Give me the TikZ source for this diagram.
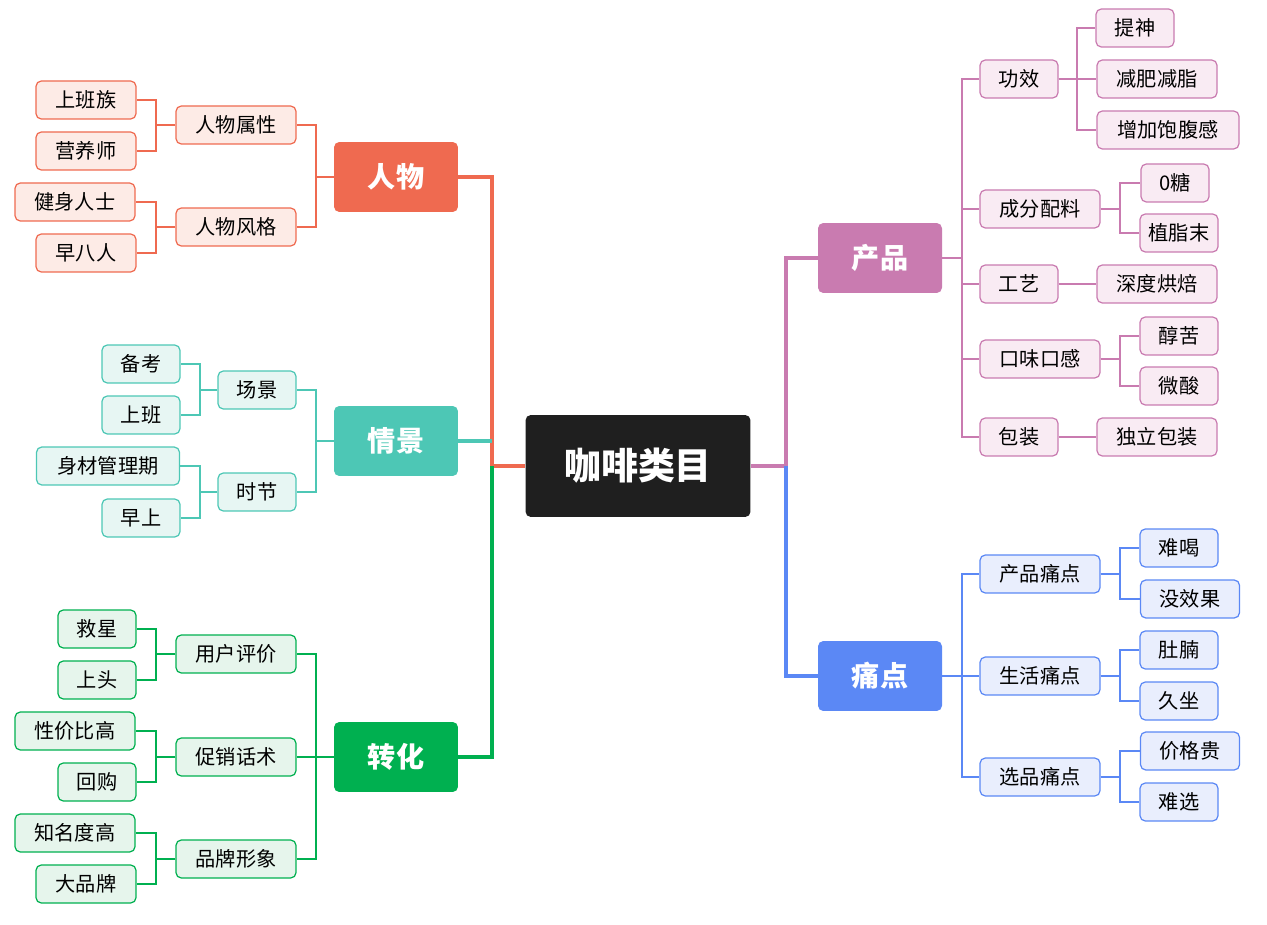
\documentclass[tikz,border=0pt]{standalone}
\usepackage{fontspec}
\setmainfont{Noto Sans CJK SC}
\usepackage{tikz}

\definecolor{rwRed}{HTML}{EF6A50}
\definecolor{rwRedL}{HTML}{FDEBE6}
\definecolor{rwTeal}{HTML}{4DC7B5}
\definecolor{rwTealL}{HTML}{E7F6F3}
\definecolor{rwGreen}{HTML}{00B050}
\definecolor{rwGreenL}{HTML}{E6F5EC}
\definecolor{rwPink}{HTML}{C97BB0}
\definecolor{rwPinkL}{HTML}{F9EBF3}
\definecolor{rwBlue}{HTML}{5B88F5}
\definecolor{rwBlueL}{HTML}{E9EEFD}

\tikzset{
  root/.style={rectangle, rounded corners=3pt, fill=black!88, text=white, font=\fontsize{21}{24}\selectfont\bfseries, minimum width=4.5cm, minimum height=2.04cm},
  topic/.style={rectangle, rounded corners=3pt, fill=#1, text=white, font=\fontsize{16}{19}\selectfont\bfseries, minimum width=2.48cm, minimum height=1.4cm},
  sub/.style={rectangle, rounded corners=3pt, draw=#1, fill=#1L, line width=0.7pt, font=\fontsize{11.5}{13}\selectfont, minimum height=0.76cm, inner sep=1pt},
  big/.style={line width=2.4pt},
  thin/.style={line width=0.7pt}
}

\begin{document}
\begin{tikzpicture}[x=0.02cm, y=-0.02cm]
\useasboundingbox (0,0) rectangle (1267,925);

% centre and topics
\node[root] (c) at (638,466) {咖啡类目};
\node[topic=rwRed] (p) at (396,177) {人物};
\node[topic=rwTeal] (s) at (396,441) {情景};
\node[topic=rwGreen] (t) at (396,757) {转化};
\node[topic=rwPink] (g) at (880,258) {产品};
\node[topic=rwBlue] (d) at (880,676) {痛点};

\draw[big, rwRed] (c.west) -- (492,466) |- (p.east);
\draw[big, rwTeal] (492,441) -- (s.east);
\draw[big, rwGreen] (492,466) |- (t.east);
\draw[big, rwPink] (c.east) -- (786,466) |- (g.west);
\draw[big, rwBlue] (786,466) |- (d.west);

% 人物
\node[sub=rwRed, minimum width=2.4cm] (p1) at (236,125) {人物属性};
\node[sub=rwRed, minimum width=2.4cm] (p2) at (236,227) {人物风格};
\node[sub=rwRed, minimum width=2cm] (p11) at (86,100) {上班族};
\node[sub=rwRed, minimum width=2cm] (p12) at (86,151) {营养师};
\node[sub=rwRed, minimum width=2.4cm] (p21) at (75,202) {健身人士};
\node[sub=rwRed, minimum width=2cm] (p22) at (86,253) {早八人};
\draw[thin, rwRed] (p.west) -- (316,177) |- (p1.east);
\draw[thin, rwRed] (316,177) |- (p2.east);
\draw[thin, rwRed] (p1.west) -- (156,125) |- (p11.east);
\draw[thin, rwRed] (156,125) |- (p12.east);
\draw[thin, rwRed] (p2.west) -- (156,227) |- (p21.east);
\draw[thin, rwRed] (156,227) |- (p22.east);

% 情景
\node[sub=rwTeal, minimum width=1.56cm] (s1) at (257,390) {场景};
\node[sub=rwTeal, minimum width=1.56cm] (s2) at (257,492) {时节};
\node[sub=rwTeal, minimum width=1.56cm] (s11) at (141,364) {备考};
\node[sub=rwTeal, minimum width=1.56cm] (s12) at (141,415) {上班};
\node[sub=rwTeal, minimum width=2.86cm] (s21) at (108,466) {身材管理期};
\node[sub=rwTeal, minimum width=1.56cm] (s22) at (141,518) {早上};
\draw[thin, rwTeal] (s.west) -- (316,441) |- (s1.east);
\draw[thin, rwTeal] (316,441) |- (s2.east);
\draw[thin, rwTeal] (s1.west) -- (200,390) |- (s11.east);
\draw[thin, rwTeal] (200,390) |- (s12.east);
\draw[thin, rwTeal] (s2.west) -- (200,492) |- (s21.east);
\draw[thin, rwTeal] (200,492) |- (s22.east);

% 转化
\node[sub=rwGreen, minimum width=2.4cm] (t1) at (236,654) {用户评价};
\node[sub=rwGreen, minimum width=2.4cm] (t2) at (236,757) {促销话术};
\node[sub=rwGreen, minimum width=2.4cm] (t3) at (236,859) {品牌形象};
\node[sub=rwGreen, minimum width=1.56cm] (t11) at (97,629) {救星};
\node[sub=rwGreen, minimum width=1.56cm] (t12) at (97,680) {上头};
\node[sub=rwGreen, minimum width=2.4cm] (t21) at (75,731) {性价比高};
\node[sub=rwGreen, minimum width=1.56cm] (t22) at (97,782) {回购};
\node[sub=rwGreen, minimum width=2.4cm] (t31) at (75,833) {知名度高};
\node[sub=rwGreen, minimum width=2cm] (t32) at (86,884) {大品牌};
\draw[thin, rwGreen] (t.west) -- (316,757) |- (t1.east);
\draw[thin, rwGreen] (316,757) |- (t3.east);
\draw[thin, rwGreen] (316,757) -- (t2.east);
\foreach \a/\b/\y in {t1/t11/654,t1/t12/654,t2/t21/757,t2/t22/757,t3/t31/859,t3/t32/859}
  \draw[thin, rwGreen] (\a.west) -- (156,\y) |- (\b.east);

% 产品
\node[sub=rwPink, minimum width=1.56cm] (g1) at (1019,79) {功效};
\node[sub=rwPink, minimum width=2.4cm] (g2) at (1040,209) {成分配料};
\node[sub=rwPink, minimum width=1.56cm] (g3) at (1019,284) {工艺};
\node[sub=rwPink, minimum width=2.4cm] (g4) at (1040,359) {口味口感};
\node[sub=rwPink, minimum width=1.56cm] (g5) at (1019,437) {包装};
\node[sub=rwPink, minimum width=1.56cm] (g11) at (1135,28) {提神};
\node[sub=rwPink, minimum width=2.4cm] (g12) at (1157,79) {减肥减脂};
\node[sub=rwPink, minimum width=2.84cm] (g13) at (1168,130) {增加饱腹感};
\node[sub=rwPink, minimum width=1.36cm] (g21) at (1175,183) {0糖};
\node[sub=rwPink, minimum width=1.56cm] (g22) at (1179,233) {植脂末};
\node[sub=rwPink, minimum width=2.4cm] (g31) at (1157,284) {深度烘焙};
\node[sub=rwPink, minimum width=1.56cm] (g41) at (1179,336) {醇苦};
\node[sub=rwPink, minimum width=1.56cm] (g42) at (1179,386) {微酸};
\node[sub=rwPink, minimum width=2.4cm] (g51) at (1157,437) {独立包装};
\draw[thin, rwPink] (g.east) -- (962,258);
\foreach \b/\y in {g1/79,g2/209,g3/284,g4/359,g5/437}
  \draw[thin, rwPink] (962,258) |- (\b.west);
\foreach \b in {g11,g12,g13}
  \draw[thin, rwPink] (g1.east) -- (1077,79) |- (\b.west);
\foreach \b in {g21,g22}
  \draw[thin, rwPink] (g2.east) -- (1120,209) |- (\b.west);
\foreach \b in {g41,g42}
  \draw[thin, rwPink] (g4.east) -- (1120,359) |- (\b.west);
\draw[thin, rwPink] (g3.east) -- (g31.west);
\draw[thin, rwPink] (g5.east) -- (g51.west);

% 痛点
\node[sub=rwBlue, minimum width=2.4cm] (d1) at (1040,574) {产品痛点};
\node[sub=rwBlue, minimum width=2.4cm] (d2) at (1040,676) {生活痛点};
\node[sub=rwBlue, minimum width=2.4cm] (d3) at (1040,777) {选品痛点};
\node[sub=rwBlue, minimum width=1.56cm] (d11) at (1179,548) {难喝};
\node[sub=rwBlue, minimum width=1.98cm] (d12) at (1190,599) {没效果};
\node[sub=rwBlue, minimum width=1.56cm] (d21) at (1179,650) {肚腩};
\node[sub=rwBlue, minimum width=1.56cm] (d22) at (1179,701) {久坐};
\node[sub=rwBlue, minimum width=1.98cm] (d31) at (1190,751) {价格贵};
\node[sub=rwBlue, minimum width=1.56cm] (d32) at (1179,802) {难选};
\draw[thin, rwBlue] (d.east) -- (962,676);
\foreach \b in {d1,d2,d3}
  \draw[thin, rwBlue] (962,676) |- (\b.west);
\foreach \a/\b/\y in {d1/d11/574,d1/d12/574,d2/d21/676,d2/d22/676,d3/d31/777,d3/d32/777}
  \draw[thin, rwBlue] (\a.east) -- (1120,\y) |- (\b.west);
\end{tikzpicture}
\end{document}
